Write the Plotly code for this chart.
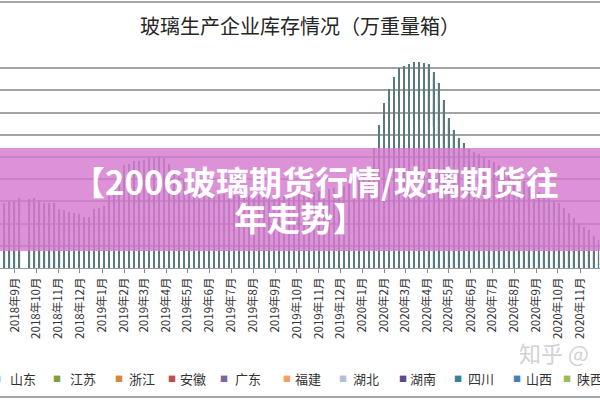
import numpy as np
import pandas as pd
import plotly.graph_objects as go

N = None
weeks = pd.date_range("2018-08-17", periods=120, freq="7D")

provinces = ["山东", "江苏", "浙江", "安徽", "广东", "福建", "湖北", "湖南", "四川", "山西", "陕西"]

shandong = [206,208,212,222,N,218,222,216,206,206, 204,188,184,178,174,170,162,162,188,190,
            196,228,260,306,324,330,336,338,342,346, 348,354,346,330,308,292,278,266,258,250,
            246,242,238,236,234,232,232,230,232,230, 228,230,232,232,232,230,228,226,230,232,
            236,238,240,244,246,250,252,254,260,264, 268,278,294,322,380,450,520,564,602,630,
            638,642,650,650,646,642,618,582,530,474, 434,412,394,376,366,358,350,342,334,324,
            314,304,294,284,274,264,252,240,230,218, 212,204,190,174,158,142,130,120,100,88]
jiangsu = [103,104,106,111,N,109,111,108,103,103, 102,94,92,89,87,85,81,81,94,95,
           98,114,130,153,162,165,168,169,171,173, 174,177,173,165,154,146,139,133,129,125,
           123,121,119,118,117,116,116,115,116,115, 114,115,116,116,116,115,114,113,115,116,
           118,119,120,122,123,125,126,127,130,132, 134,139,147,161,190,225,260,282,301,315,
           319,321,325,325,323,321,309,291,265,237, 217,206,197,188,183,179,175,171,167,162,
           157,152,147,142,137,132,126,120,115,109, 106,102,95,87,79,71,65,60,50,44]
zhejiang = [132,134,137,142,N,140,142,139,132,132, 131,121,118,114,112,110,104,104,121,122,
            126,147,167,197,208,212,216,218,220,222, 224,228,222,212,198,187,178,171,166,161,
            158,156,153,151,150,149,149,148,149,148, 147,148,149,149,149,148,147,146,148,149,
            151,153,155,157,158,160,162,164,167,169, 173,178,189,207,244,289,334,363,387,405,
            410,413,418,418,415,413,397,374,340,305, 279,265,253,242,236,230,225,220,214,208,
            202,195,189,183,176,169,162,155,148,140, 137,131,122,112,102,92,84,77,65,57]
anhui = [88,89,91,95,N,94,95,92,88,88, 87,80,79,76,74,73,69,69,80,82,
         84,98,112,131,139,141,144,145,146,148, 149,152,148,141,132,125,119,114,110,107,
         106,104,102,101,100,100,99,98,99,98, 98,98,99,100,99,98,98,97,98,100,
         101,102,103,104,106,107,108,109,111,113, 115,119,126,138,163,193,223,242,258,270,
         273,275,278,278,277,275,265,250,227,203, 186,176,169,161,157,154,150,146,143,139,
         134,130,126,122,118,113,108,103,98,94, 91,87,82,74,68,61,56,52,43,38]
guangdong = [176,178,182,190,N,188,190,184,176,176, 174,160,158,152,148,146,138,138,160,164,
             168,196,224,262,278,282,288,290,292,296, 298,304,296,282,264,250,238,228,220,214,
             212,208,204,202,200,200,198,196,198,196, 196,196,198,200,198,196,196,194,196,200,
             202,204,206,208,212,214,216,218,222,226, 230,238,252,276,326,386,446,484,516,540,
             546,550,556,556,554,550,530,500,454,406, 372,352,338,322,314,308,300,292,286,278,
             268,260,252,244,236,226,216,206,196,188, 182,174,164,148,136,122,112,104,86,76]
fujian = [118,119,122,126,N,125,126,123,118,118, 116,107,105,102,99,98,92,92,107,109,
          112,130,149,175,185,188,192,194,195,198, 199,202,198,188,176,166,158,152,147,143,
          141,138,136,134,134,133,132,131,132,131, 130,131,132,133,132,131,130,130,131,133,
          134,136,138,139,141,142,144,146,148,150, 154,158,168,184,217,257,297,322,344,360,
          364,367,371,371,369,367,353,333,302,271, 248,235,225,215,210,205,200,195,190,185,
          179,174,168,162,157,150,144,138,131,125, 122,116,109,99,90,82,74,69,58,50]
hubei = [235,238,243,253,N,250,253,246,235,235, 232,214,210,203,198,195,184,184,214,218,
         224,261,298,350,370,376,384,387,390,395, 398,405,395,376,352,333,317,304,294,286,
         282,277,272,269,267,266,264,262,264,262, 261,262,264,266,264,262,261,259,262,266,
         269,272,275,278,282,285,288,291,296,301, 307,317,336,368,434,514,594,645,688,720,
         728,734,742,742,738,734,706,666,605,542, 496,470,450,430,419,410,400,390,381,370,
         358,347,336,325,314,301,288,275,262,250, 243,232,218,198,181,163,149,138,115,101]
hunan = [147,149,152,158,N,156,158,154,147,147, 145,134,131,127,124,122,115,115,134,136,
         140,163,186,219,231,235,240,242,244,247, 249,253,247,235,220,208,198,190,184,179,
         176,173,170,168,167,166,165,164,165,164, 163,164,165,166,165,164,163,162,164,166,
         168,170,172,174,176,178,180,182,185,188, 192,198,210,230,271,321,371,403,430,450,
         455,459,464,464,461,459,441,416,378,339, 310,294,281,269,262,256,250,244,238,231,
         224,217,210,203,196,188,180,172,164,156, 152,145,136,124,113,102,93,86,72,63]
sichuan = [162,164,167,174,N,172,174,169,162,162, 160,147,144,140,136,134,127,127,147,150,
           154,179,205,241,254,259,264,266,268,272, 274,278,272,259,242,229,218,209,202,197,
           194,190,187,185,184,183,182,180,182,180, 179,180,182,183,182,180,179,178,180,183,
           185,187,189,191,194,196,198,200,204,207, 211,218,231,253,298,353,408,443,473,495,
           501,505,510,510,507,505,485,458,416,373, 341,323,309,296,288,282,275,268,262,254,
           246,239,231,223,216,207,198,189,180,172, 167,160,150,136,124,112,102,95,79,69]
shanxi = [59,60,61,63,N,63,63,62,59,59, 58,54,53,51,50,49,46,46,54,55,
          56,65,75,88,93,94,96,97,98,99, 100,101,99,94,88,83,79,76,74,72,
          71,69,68,67,67,67,66,66,66,66, 65,66,66,67,66,66,65,65,66,67,
          67,68,69,70,71,71,72,73,74,75, 77,79,84,92,109,129,149,161,172,180,
          182,184,186,186,185,184,177,167,151,136, 124,118,113,108,105,103,100,98,95,93,
          90,87,84,81,79,75,72,69,66,63, 61,58,55,50,45,41,37,35,29,25]
shaanxi = [44,45,46,48,N,47,48,46,44,44, 44,40,40,38,37,37,35,35,40,41,
           42,49,56,66,70,71,72,73,73,74, 75,76,74,71,66,63,60,57,55,54,
           53,52,51,51,50,50,50,49,50,49, 49,49,50,50,50,49,49,49,49,50,
           51,51,52,52,53,54,54,55,56,57, 58,60,63,69,82,97,112,121,129,135,
           137,138,139,139,139,138,133,125,114,102, 93,88,85,81,79,77,75,73,72,70,
           67,65,63,61,59,57,54,52,49,47, 46,44,41,37,34,31,28,26,22,19]

series = [shandong, jiangsu, zhejiang, anhui, guangdong, fujian, hubei, hunan, sichuan, shanxi, shaanxi]
colors = ["#4bacc6", "#7f9f45", "#d9853b", "#c0504d", "#8064a2", "#f4a05a",
          "#b4bedb", "#5c4a84", "#31849b", "#4a7ebb", "#9bbb59"]

title_text = "玻璃生产企业库存情况（万重量箱）"
banner_line1 = "【2006玻璃期货行情/玻璃期货往"
banner_line2 = "年走势】"
watermark = "知乎 @"

DAY = 86400000
FONT = "Noto Sans CJK SC"

fig = go.Figure()
for name, vals, col in zip(provinces, series, colors):
    fig.add_trace(go.Bar(x=weeks, y=vals, name=name, width=3.6 * DAY,
                         marker=dict(color=col, line=dict(width=0)), opacity=0.2,
                         showlegend=False))

total = np.sum([np.array(s, dtype=float) for s in series], axis=0)
fig.add_trace(go.Bar(x=weeks, y=total, width=1.2 * DAY, xaxis="x2",
                     marker=dict(color="#5b7a80", line=dict(width=0)),
                     showlegend=False, name="合计"))

PLOT_TOP, PLOT_BOT, W = 46, 268, 600
H = PLOT_BOT - PLOT_TOP


def py(p):
    return (PLOT_BOT - p) / H


fig.update_layout(
    width=600, height=400, template="none",
    margin=dict(l=0, r=0, t=PLOT_TOP, b=400 - PLOT_BOT, autoexpand=False),
    paper_bgcolor="white", plot_bgcolor="white",
    barmode="stack", bargap=0, showlegend=False,
    xaxis=dict(type="date", range=["2018-08-11", "2020-11-29"], tick0="2018-09-01",
               dtick="M1", tickformat="%Y年%-m月", tickangle=-90, ticks="outside",
               ticklen=4, tickcolor="#8a8a8a", showline=True, linecolor="#9a9a9a",
               linewidth=1, showgrid=False, zeroline=False, automargin=False,
               tickfont=dict(family=FONT, size=11.5, color="#333333")),
    xaxis2=dict(type="date", overlaying="x", matches="x", visible=False),
    yaxis=dict(range=[0, 5000], dtick=500, showticklabels=False, ticks="",
               showgrid=True, gridcolor="#a3a3a3", gridwidth=1.5, zeroline=False,
               showline=False, automargin=False),
    font=dict(family=FONT),
)

shapes = [
    dict(type="rect", xref="paper", yref="paper", x0=0, x1=1, y0=py(251), y1=py(148),
         fillcolor="rgba(214,122,208,0.82)", line=dict(width=0), layer="above"),
    dict(type="line", xref="paper", yref="paper", x0=0, x1=1, y0=py(2), y1=py(2),
         line=dict(color="#a6a6a6", width=2)),
    dict(type="line", xref="paper", yref="paper", x0=0, x1=1, y0=py(397), y1=py(397),
         line=dict(color="#a6a6a6", width=2)),
]
fig.update_layout(shapes=shapes)

ann = [
    dict(text=title_text, x=300 / W, y=py(25), font=dict(size=20, color="#262626", family=FONT)),
    dict(text="<b>" + banner_line1 + "</b>", x=315 / W, y=py(181),
         font=dict(size=33, color="white", family=FONT)),
    dict(text="<b>" + banner_line2 + "</b>", x=300 / W, y=py(217),
         font=dict(size=33, color="white", family=FONT)),
    dict(text=watermark, x=517 / W, y=py(352), xanchor="left",
         font=dict(size=22, color="#d2d2d2", family=FONT)),
]

legend_marker_x = [-3, 57, 119, 172, 224, 287, 343, 403, 458, 517, 567]
legend_text_x = [8, 68, 127, 178, 233, 293, 351, 408, 466, 524, 575]
for name, col, mx, tx in zip(provinces, colors, legend_marker_x, legend_text_x):
    ann.append(dict(text="■", x=mx / W, y=py(378), xanchor="center",
                    font=dict(size=8, color=col, family=FONT)))
    ann.append(dict(text=name, x=tx / W, y=py(378), xanchor="left",
                    font=dict(size=13, color="#333333", family=FONT)))

for a in ann:
    a.setdefault("xanchor", "center")
    a.update(xref="paper", yref="paper", yanchor="middle", showarrow=False)
fig.update_layout(annotations=ann)

fig.write_html("out.html")
